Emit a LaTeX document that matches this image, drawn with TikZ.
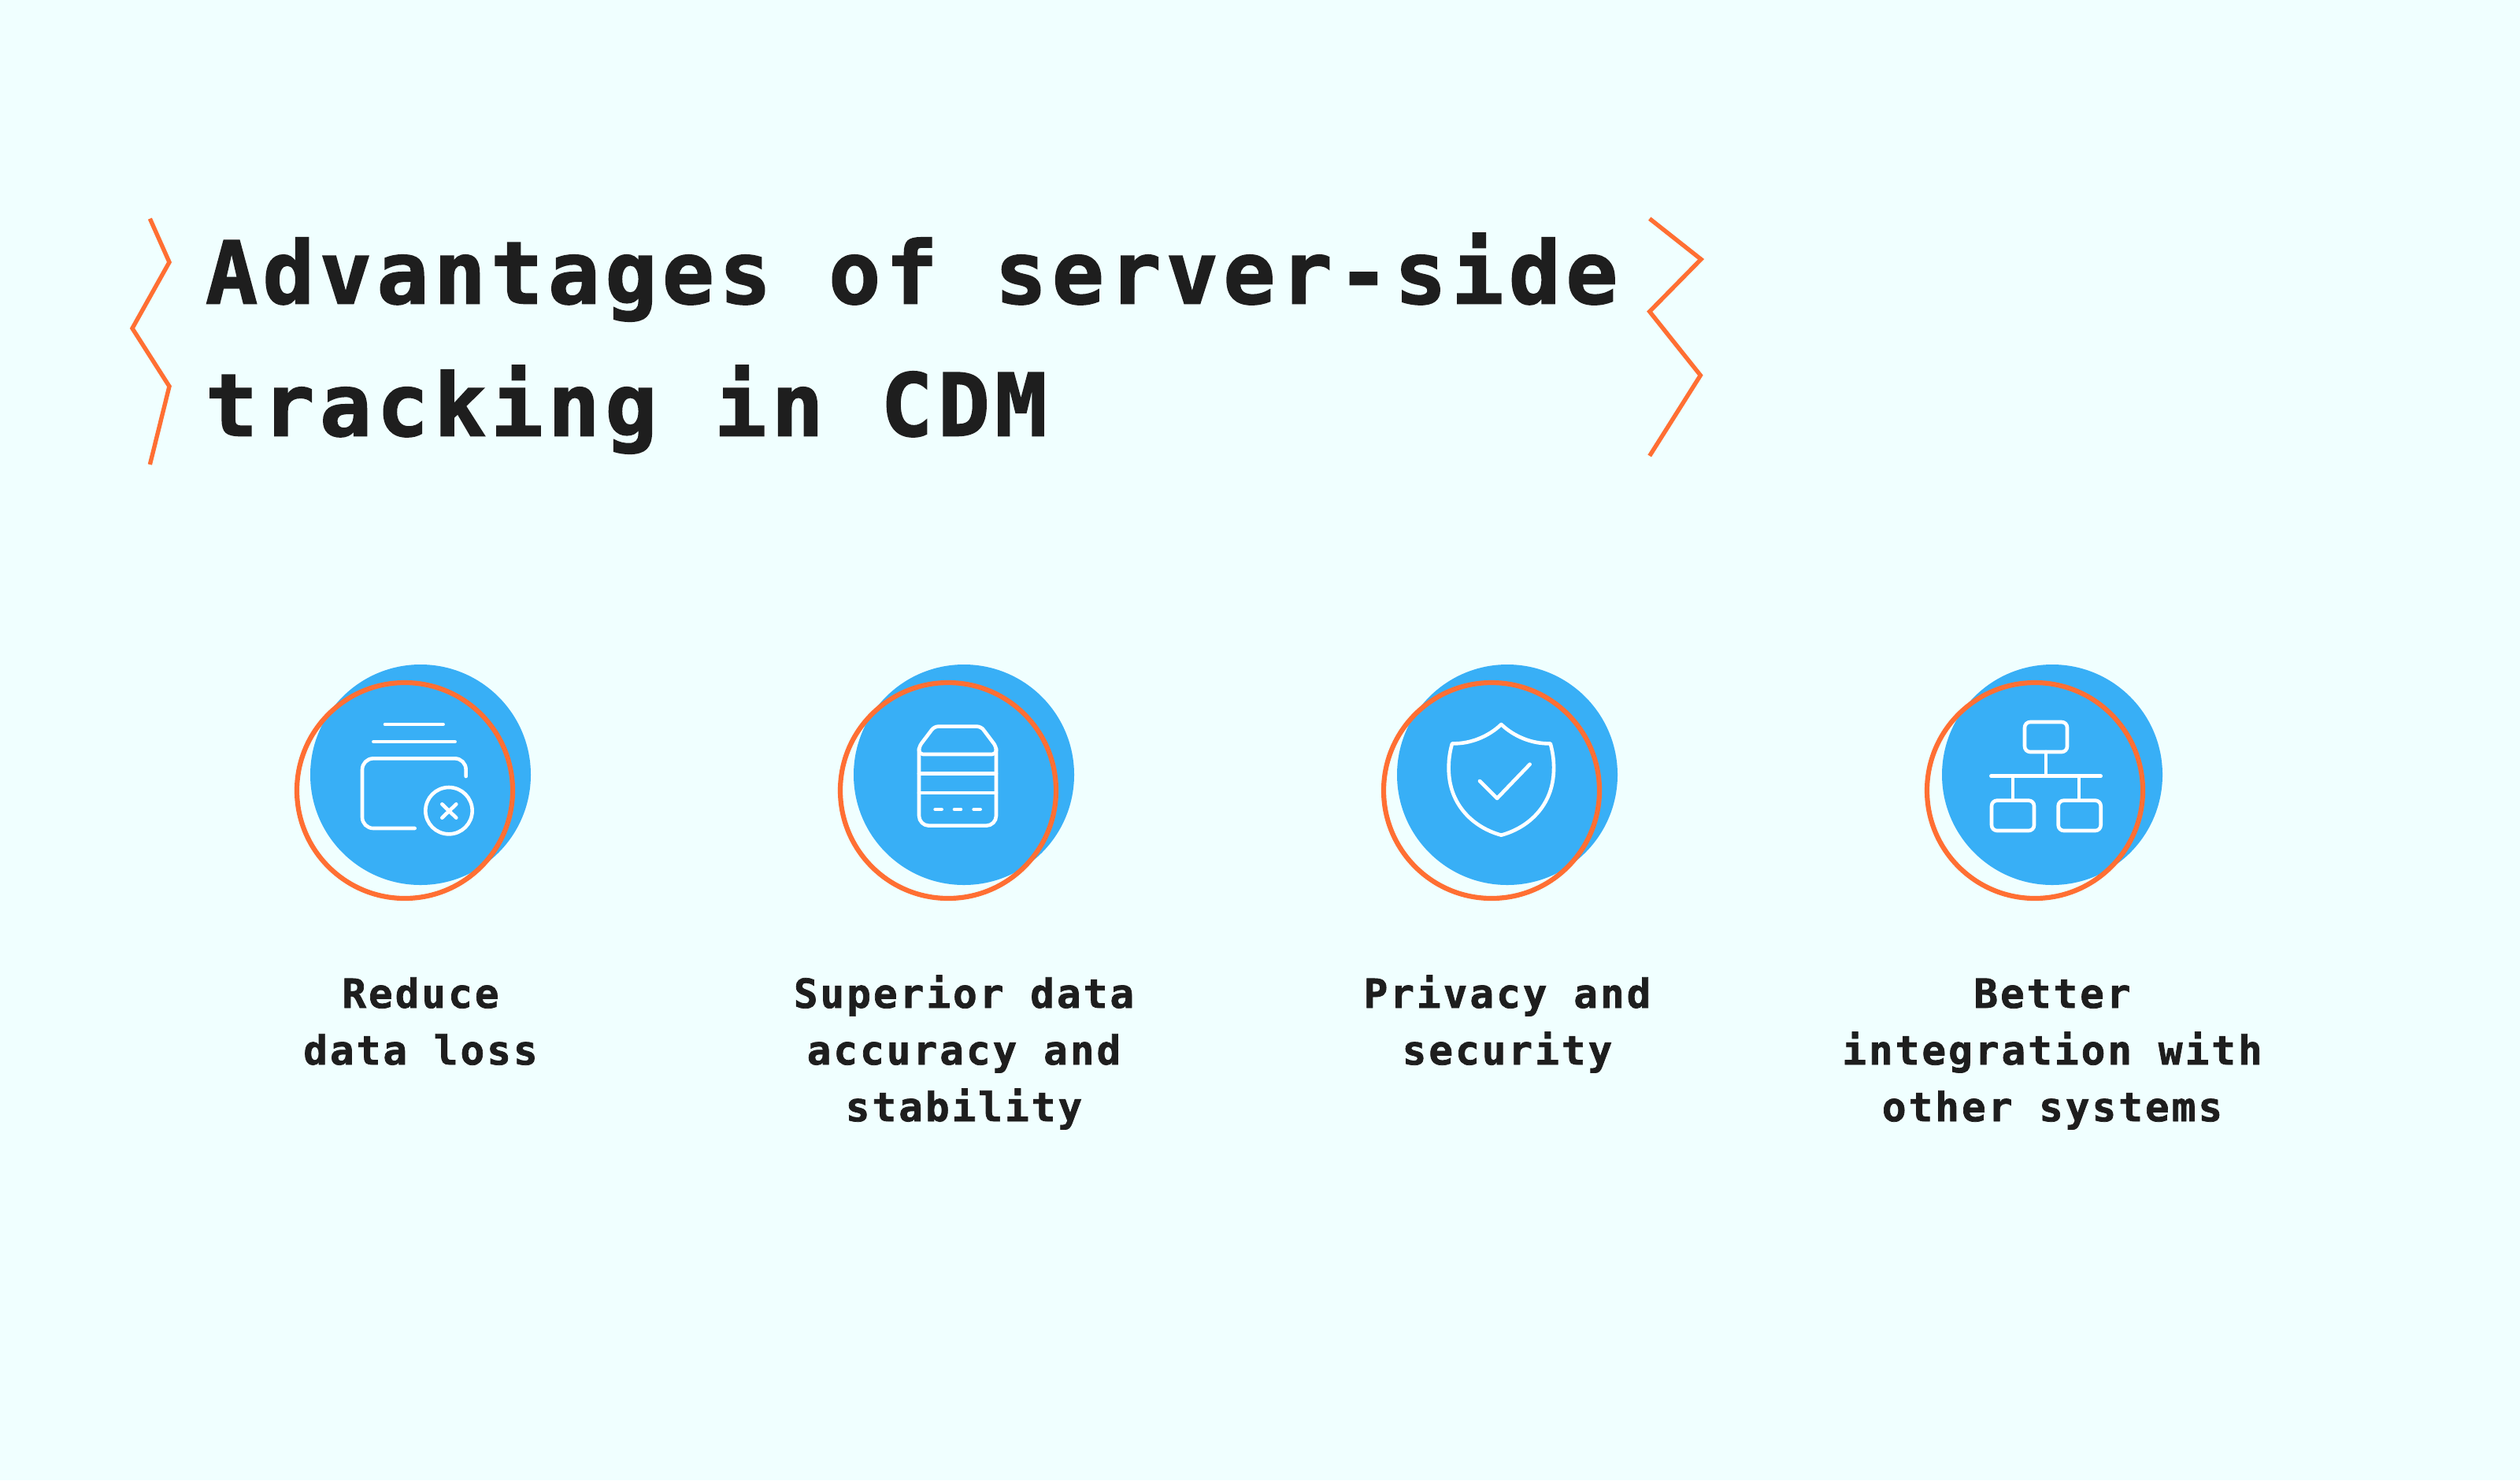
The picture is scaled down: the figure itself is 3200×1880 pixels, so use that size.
\documentclass[tikz,border=0pt]{standalone}
\usepackage{fontspec}
\setmainfont{DejaVu Sans}
\newfontfamily\titlefont[LetterSpace=5.7,BoldFeatures={FakeBold=1.6}]{DejaVu Sans Mono}
\newfontfamily\labelfont[LetterSpace=5.9,BoldFeatures={FakeBold=1.4}]{DejaVu Sans Mono}
\definecolor{bgcol}{HTML}{F0FFFF}
\definecolor{bluecol}{HTML}{38AFF6}
\definecolor{orangecol}{HTML}{FF6F33}
\definecolor{inkcol}{HTML}{1E1E1E}
\tikzset{
  zig/.style={draw=orangecol,line width=5.4pt,miter limit=10},
  disc/.style={circle,fill=bluecol,minimum size=280pt,inner sep=0pt,outer sep=0pt},
  ring/.style={circle,draw=orangecol,line width=6.2pt,minimum size=274pt,inner sep=0pt,outer sep=0pt},
  iconline/.style={draw=white,line width=4.6pt,line cap=round,line join=round},
  iconframe/.style={shift={#1},x=0.33333pt,y=-0.33333pt},
  titletext/.style={text=inkcol,inner sep=0pt,outer sep=0pt,align=left,anchor=north west,
    font={\titlefont\bfseries\fontsize{110pt}{168pt}\selectfont}},
  labeltext/.style={text=inkcol,inner sep=0pt,outer sep=0pt,align=center,anchor=north,
    font={\labelfont\bfseries\fontsize{51pt}{72pt}\selectfont}},
}
\newcommand{\evenhead}{\rule[-16pt]{0pt}{74pt}}
\begin{document}
\begin{tikzpicture}[x=1pt,y=-1pt]
\useasboundingbox (0,0) rectangle (3200,1880);
\fill[bgcol] (0,0) rectangle (3200,1880);

% zigzag brackets
\draw[zig] (190.4,277.7) -- (215,333) -- (168,417) -- (215,490.7) -- (190.4,590);
\draw[zig] (2094.7,277.7) -- (2160,329.3) -- (2094.7,395.7) -- (2159.3,476.7) -- (2094.7,579);

% title
\node[titletext] (title) at (261,296) {Advantages of server-side\\tracking in CDM};

% discs and rings
\node[disc] (d1) at (534,984) {};
\node[disc] (d2) at (1224,984) {};
\node[disc] (d3) at (1914,984) {};
\node[disc] (d4) at (2606,984) {};
\node[ring] (r1) at (514,1004) {};
\node[ring] (r2) at (1204,1004) {};
\node[ring] (r3) at (1894,1004) {};
\node[ring] (r4) at (2584,1004) {};

% icon 1: wallet with cross
\begin{scope}[iconframe={(360,820)}]
  \draw[iconline] (387,300) -- (608,300);
  \draw[iconline] (343,366) -- (653,366);
  \draw[iconline,rounded corners=14pt] (695,498) -- (695,430) -- (300,430) -- (300,696) -- (500,696);
  \draw[iconline] (630,629) circle[radius=89];
  \draw[iconline] (604,604) -- (658,656);
  \draw[iconline] (658,604) -- (604,656);
\end{scope}

% icon 2: server
\begin{scope}[iconframe={(1050,820)}]
  \draw[iconline,rounded corners=12.6pt] (351,392) -- (351,686) -- (645,686) -- (645,392);
  \draw[iconline,rounded corners=5pt] (498,308) -- (587,308) -- (645,385) -- (645,414) -- (351,414) -- (351,385) -- (409,308) -- cycle;
  \draw[iconline] (351,488) -- (645,488);
  \draw[iconline] (351,561) -- (645,561);
  \draw[iconline] (413,624) -- (437,624);
  \draw[iconline] (486,624) -- (510,624);
  \draw[iconline] (560,624) -- (584,624);
\end{scope}

% icon 3: shield
\begin{scope}[iconframe={(1740,820)}]
  \draw[iconline] (499,300) .. controls (450,347) and (380,375) .. (312,373)
     .. controls (298,420) and (296,470) .. (302,510)
     .. controls (318,620) and (400,695) .. (499,722)
     .. controls (598,695) and (680,620) .. (696,510)
     .. controls (702,470) and (700,420) .. (686,373)
     .. controls (618,375) and (548,347) .. (499,300) -- cycle;
  \draw[iconline] (417,516) -- (483,582) -- (608,452);
\end{scope}

% icon 4: hierarchy
\begin{scope}[iconframe={(2430,820)}]
  \draw[iconline,rounded corners=7pt] (423,291) rectangle (585,405);
  \draw[iconline,rounded corners=7pt] (297,590) rectangle (459,705);
  \draw[iconline,rounded corners=7pt] (551,590) rectangle (713,705);
  \draw[iconline] (504,405) -- (504,497);
  \draw[iconline] (295,497) -- (713,497);
  \draw[iconline] (378,497) -- (378,590);
  \draw[iconline] (630,497) -- (630,590);
\end{scope}

% labels
\node[labeltext] (l1) at (534,1222) {\evenhead Reduce\\data loss};
\node[labeltext] (l2) at (1224,1222) {\evenhead Superior data\\accuracy and\\stability};
\node[labeltext] (l3) at (1914,1222) {\evenhead Privacy and\\security};
\node[labeltext] (l4) at (2606,1222) {\evenhead Better\\integration with\\other systems};
\end{tikzpicture}
\end{document}
